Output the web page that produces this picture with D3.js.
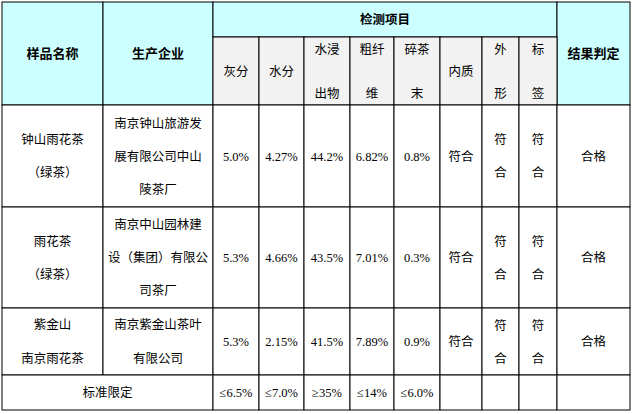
<!DOCTYPE html>
<html><head><meta charset="utf-8">
<script src="https://cdn.jsdelivr.net/npm/d3@7"></script>
<style>body{margin:0;background:#fff}</style>
</head><body>
<script>
// data
const items = ["灰分", "水分", "水浸|出物", "粗纤|维", "碎茶|末", "内质", "外|形", "标|签"];
const samples = ["钟山雨花茶|（绿茶）", "雨花茶|（绿茶）", "紫金山|南京雨花茶"];
const makers = ["南京钟山旅游发|展有限公司中山|陵茶厂", "南京中山园林建|设（集团）有限公|司茶厂", "南京紫金山茶叶|有限公司"];
const values = [
  ["5.0%", "4.27%", "44.2%", "6.82%", "0.8%"],
  ["5.3%", "4.66%", "43.5%", "7.01%", "0.3%"],
  ["5.3%", "2.15%", "41.5%", "7.89%", "0.9%"]
];
const verdicts = ["合格", "合格", "合格"];
const limits = ["≤6.5%", "≤7.0%", "≥35%", "≤14%", "≤6.0%"];

const colX = [2, 103, 213, 259, 304, 350, 394, 440, 482, 519, 557, 630];
const rowY = [2, 37, 105, 207, 308, 375, 410];

const svg = d3.select("body").append("svg").attr("width", 632).attr("height", 414);
const cjk = "'Noto Sans CJK SC', sans-serif";
const serif = "'Liberation Serif', serif";

function cell(c0, c1, r0, r1, text, opt = {}) {
  const x = colX[c0], w = colX[c1] - x, y = rowY[r0], h = rowY[r1] - y;
  svg.append("rect").attr("x", x).attr("y", y).attr("width", w).attr("height", h)
    .attr("fill", opt.fill || "#fff").attr("stroke", "#000").attr("stroke-width", 1);
  if (!text) return;
  const lines = text.split("|"), lh = opt.lh || 33;
  const t = svg.append("text").attr("text-anchor", "middle")
    .attr("font-family", opt.font || cjk).attr("font-size", opt.size || 12.5)
    .attr("font-weight", opt.bold ? "bold" : "normal").attr("fill", "#000");
  lines.forEach((l, i) => {
    t.append("tspan").attr("x", x + w / 2)
      .attr("y", y + h / 2 + (i - (lines.length - 1) / 2) * lh + 4.5).text(l);
  });
}

const cyan = "#ccffff", grey = "#f2f2f2";
cell(0, 1, 0, 2, "样品名称", {fill: cyan, bold: true, size: 13});
cell(1, 2, 0, 2, "生产企业", {fill: cyan, bold: true, size: 13});
cell(2, 10, 0, 1, "检测项目", {fill: cyan, bold: true});
cell(10, 11, 0, 2, "结果判定", {fill: cyan, bold: true, size: 13});
items.forEach((it, i) => cell(2 + i, 3 + i, 1, 2, it, {fill: grey, lh: 44}));

samples.forEach((s, r) => {
  const r0 = 2 + r, r1 = 3 + r;
  const lh = r === 2 ? 34 : 33;
  cell(0, 1, r0, r1, s, {lh});
  cell(1, 2, r0, r1, makers[r], {lh});
  values[r].forEach((v, i) => cell(2 + i, 3 + i, r0, r1, v, {font: serif, size: 12.5}));
  cell(7, 8, r0, r1, "符合");
  cell(8, 9, r0, r1, "符|合", {lh: 33});
  cell(9, 10, r0, r1, "符|合", {lh: 33});
  cell(10, 11, r0, r1, verdicts[r]);
});

cell(0, 2, 5, 6, "标准限定");
limits.forEach((v, i) => cell(2 + i, 3 + i, 5, 6, v, {font: serif, size: 12.5}));
[7, 8, 9, 10].forEach(c => cell(c, c + 1, 5, 6, ""));
</script>
</body></html>
